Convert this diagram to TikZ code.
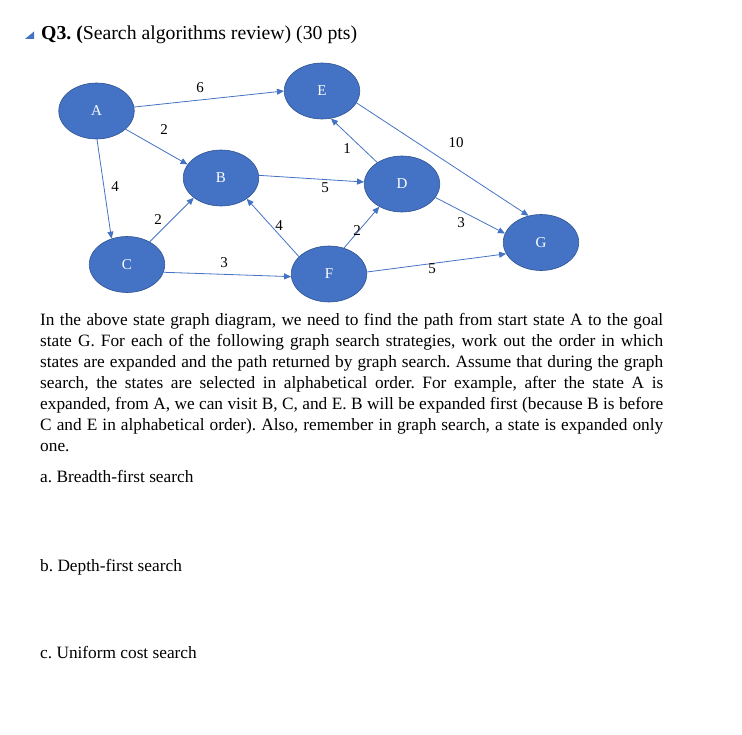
\documentclass[tikz,border=0pt]{standalone}
\usepackage{fontspec}
\setmainfont{Liberation Serif}
\usetikzlibrary{shapes.geometric,arrows.meta}
\definecolor{nodeblue}{HTML}{4472C4}
\definecolor{nodeedge}{HTML}{2F528F}
\frenchspacing

\begin{document}
\begin{tikzpicture}[x=1pt,y=-1pt,
    state/.style={ellipse,fill=nodeblue,draw=nodeedge,line width=0.6pt,
        minimum width=75.5pt,minimum height=56pt,inner sep=0pt,
        text=white,font=\fontsize{15}{15}\selectfont},
    edge/.style={draw=nodeblue,line width=0.8pt,-{Triangle[length=7pt,width=6pt]}},
    wt/.style={font=\fontsize{15}{15}\selectfont,inner sep=0pt}]
    \useasboundingbox (0,0) rectangle (742,735);

    % 标题
    \fill[nodeblue] (34,31.5) -- (34,39) -- (25,39) -- cycle;
    \node[anchor=base west,inner sep=0pt] (title) at (41,40)
        {\fontsize{19.75}{24}\selectfont\textbf{Q3. (}Search algorithms review) (30 pts)};

    % 绘制状态
    \node[state] (A) at (96.5,111) {A};
    \node[state] (E) at (322,91) {E};
    \node[state] (B) at (221,178) {B};
    \node[state] (D) at (402,184) {D};
    \node[state] (C) at (127,264.5) {C};
    \node[state] (F) at (329,274) {F};
    \node[state] (G) at (541,242.5) {G};

    % 绘制有向边
    \draw[edge] (A.6) -- (E.180);
    \draw[edge] (A.-32) -- (B.158);
    \draw[edge] (A.-89) -- (C.121);
    \draw[edge] (E.-19) -- (G.115);
    \draw[edge] (D.139) -- (E.-72);
    \draw[edge] (B.4) -- (D.177);
    \draw[edge] (D.-22) -- (G.166);
    \draw[edge] (C.45) -- (B.216);
    \draw[edge] (F.150) -- (B.-39);
    \draw[edge] (F.60) -- (D.225);
    \draw[edge] (C.-12) -- (F.184);
    \draw[edge] (F.3) -- (G.198);

    % 添加权重
    \node[wt] (wAE) at (200,88) {6};
    \node[wt] (wAB) at (164,130) {2};
    \node[wt] (wAC) at (115,187) {4};
    \node[wt] (wEG) at (456,143) {10};
    \node[wt] (wDE) at (347,149) {1};
    \node[wt] (wBD) at (325,188) {5};
    \node[wt] (wDG) at (461,223) {3};
    \node[wt] (wCB) at (158,220) {2};
    \node[wt] (wFB) at (279,226) {4};
    \node[wt] (wFD) at (357,231) {2};
    \node[wt] (wCF) at (224,263) {3};
    \node[wt] (wFG) at (432,269) {5};

    % 题目正文
    \node[anchor=base west,inner sep=0pt,text width=623pt,align=justify,
        font=\fontsize{17.3}{21}\selectfont] (text) at (40,325.7)
        {\hyphenpenalty=10000 In the above state graph diagram, we need to find the path from start state A to the goal\linebreak
        state G. For each of the following graph search strategies, work out the order in which\linebreak
        states are expanded and the path returned by graph search. Assume that during the graph\linebreak
        search, the states are selected in alphabetical order. For example, after the state A is\linebreak
        expanded, from A, we can visit B, C, and E. B will be expanded first (because B is before\linebreak
        C and E in alphabetical order). Also, remember in graph search, a state is expanded only\linebreak
        one.};

    % 小题
    \node[anchor=base west,inner sep=0pt,font=\fontsize{17.3}{21}\selectfont] (qa) at (40,482) {a. Breadth-first search};
    \node[anchor=base west,inner sep=0pt,font=\fontsize{17.3}{21}\selectfont] (qb) at (40,571) {b. Depth-first search};
    \node[anchor=base west,inner sep=0pt,font=\fontsize{17.3}{21}\selectfont] (qc) at (40,658) {c. Uniform cost search};
\end{tikzpicture}
\end{document}
